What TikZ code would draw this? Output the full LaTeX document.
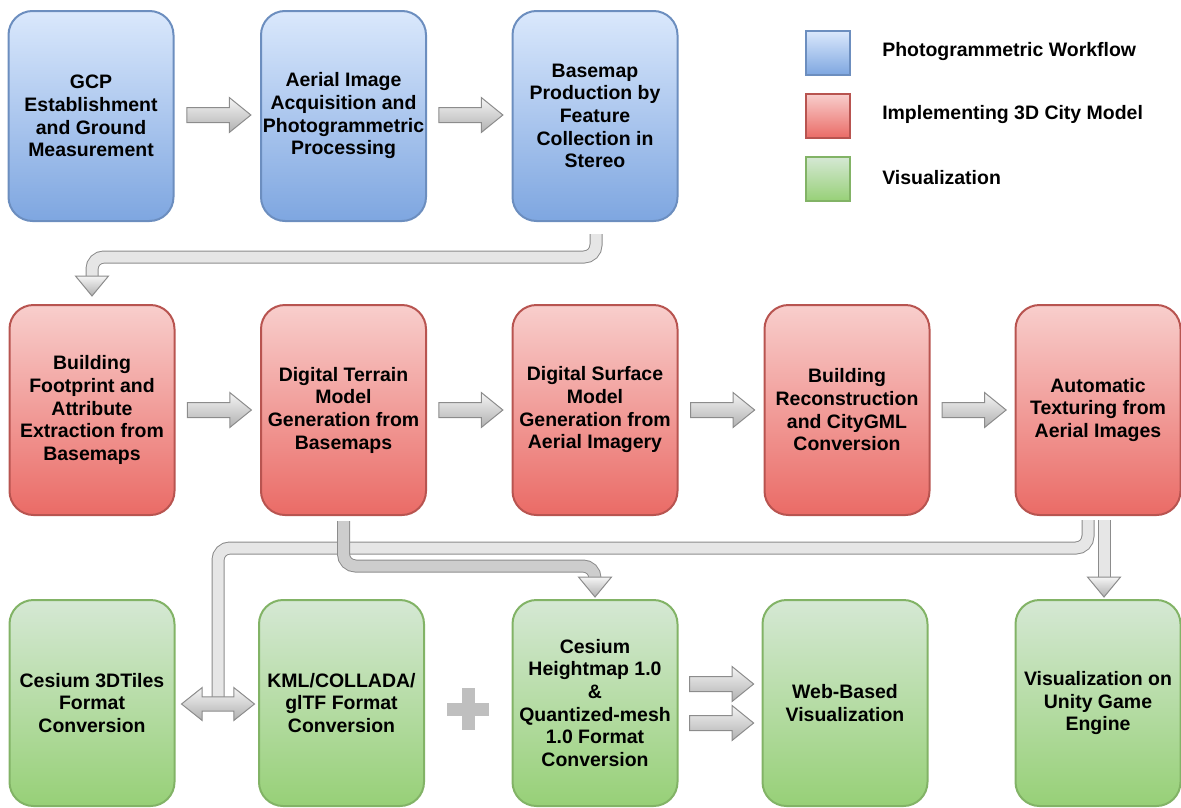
\documentclass[tikz,border=0pt]{standalone}
\usepackage{fontspec}
\setmainfont{Liberation Sans}
\usetikzlibrary{shapes.arrows,calc}
\definecolor{bluetop}{HTML}{DAE8FC}
\definecolor{bluebot}{HTML}{7EA6E0}
\definecolor{blueborder}{HTML}{6C8EBF}
\definecolor{redtop}{HTML}{F8CECC}
\definecolor{redbot}{HTML}{EA6B66}
\definecolor{redborder}{HTML}{B85450}
\definecolor{greentop}{HTML}{D5E8D4}
\definecolor{greenbot}{HTML}{97D077}
\definecolor{greenborder}{HTML}{82B366}
\definecolor{arrtop}{HTML}{F5F5F5}
\definecolor{arrbot}{HTML}{B0B0B0}
\definecolor{arrborder}{HTML}{8C8C8C}
\definecolor{shaftlight}{HTML}{E6E6E6}
\definecolor{shaftdark}{HTML}{CDCDCD}
\definecolor{plusgray}{HTML}{BFBFBF}
\tikzset{
  txt/.style={font=\fontsize{14.6}{17}\selectfont\bfseries},
  base/.style={txt, rectangle, rounded corners=18pt, minimum width=123.75pt,
    minimum height=157.5pt, line width=1.5pt, align=center, inner sep=0pt},
  bluebox/.style={base, draw=blueborder, top color=bluetop, bottom color=bluebot},
  redbox/.style={base, draw=redborder, top color=redtop, bottom color=redbot},
  greenbox/.style={base, minimum height=154.5pt, draw=greenborder, top color=greentop, bottom color=greenbot},
  legbox/.style={rectangle, minimum size=33pt, line width=1.5pt, inner sep=0pt},
  legtext/.style={txt, anchor=west, inner sep=0pt},
  rarrow/.style={single arrow, single arrow head extend=7.5pt, single arrow tip angle=78,
    minimum width=25.5pt, minimum height=48pt, inner xsep=0pt, inner ysep=5.25pt, draw=arrborder,
    line width=0.75pt, top color=arrtop, bottom color=arrbot},
  darrow/.style={double arrow, double arrow head extend=7.1pt, double arrow tip angle=77,
    minimum width=24pt, minimum height=54.75pt, inner xsep=0pt, inner ysep=4.9pt, draw=arrborder,
    line width=0.75pt, top color=arrtop, bottom color=arrbot},
  shaft/.style={draw=arrborder, line width=0.75pt, double=shaftlight, double distance=8.25pt, rounded corners=9pt},
  shaftd/.style={shaft, double=shaftdark},
  head/.style={draw=arrborder, line width=0.75pt, top color=arrtop, bottom color=arrbot},
}
\newcommand{\dnhead}[1]{\draw[head] (#1) -- ++(-16.5,-20) -- ++(33,0) -- cycle;}
\begin{document}
\begin{tikzpicture}[x=0.75pt,y=-0.75pt]
\useasboundingbox (0,0) rectangle (1181,807);
% row 1
\node[bluebox] (b1) at (91,116) {GCP\\Establishment\\and Ground\\Measurement};
\node[bluebox] (b2) at (343.5,116) {Aerial Image\\Acquisition and\\Photogrammetric\\Processing};
\node[bluebox] (b3) at (595,116) {Basemap\\Production by\\Feature\\Collection in\\Stereo};
% legend
\node[legbox, draw=blueborder, top color=bluetop, bottom color=bluebot] (l1) at (828,53) {};
\node[legbox, draw=redborder, top color=redtop, bottom color=redbot] (l2) at (828,116) {};
\node[legbox, draw=greenborder, top color=greentop, bottom color=greenbot] (l3) at (828,179) {};
\node[legtext] (lt1) at (882,52) {Photogrammetric Workflow};
\node[legtext] (lt2) at (882,115) {Implementing 3D City Model};
\node[legtext] (lt3) at (882,178) {Visualization};
% row 2
\node[redbox] (r1) at (92,410) {Building\\Footprint and\\Attribute\\Extraction from\\Basemaps};
\node[redbox] (r2) at (343.5,410) {Digital Terrain\\Model\\Generation from\\Basemaps};
\node[redbox] (r3) at (595,410) {Digital Surface\\Model\\Generation from\\Aerial Imagery};
\node[redbox] (r4) at (847,410) {Building\\Reconstruction\\and CityGML\\Conversion};
\node[redbox] (r5) at (1098,410) {Automatic\\Texturing from\\Aerial Images};
% row 3
\node[greenbox] (g1) at (92,703) {Cesium 3DTiles\\Format\\Conversion};
\node[greenbox] (g2) at (341.5,703) {KML/COLLADA/\\glTF Format\\Conversion};
\node[greenbox] (g3) at (595,703) {Cesium\\Heightmap 1.0\\\&\\Quantized-mesh\\1.0 Format\\Conversion};
\node[greenbox] (g4) at (845,703) {Web-Based\\Visualization};
\node[greenbox] (g5) at (1098,703) {Visualization on\\Unity Game\\Engine};
% horizontal block arrows
\node[rarrow] (a12) at ($(b1.east)!0.5!(b2.west)+(-3,-1)$) {};
\node[rarrow] (a23) at ($(b2.east)!0.5!(b3.west)+(-3,-1)$) {};
\node[rarrow] (a45) at ($(r1.east)!0.5!(r2.west)+(-3,0)$) {};
\node[rarrow] (a56) at ($(r2.east)!0.5!(r3.west)+(-3,0)$) {};
\node[rarrow] (a67) at ($(r3.east)!0.5!(r4.west)+(-3,0)$) {};
\node[rarrow] (a78) at ($(r4.east)!0.5!(r5.west)+(-3,0)$) {};
\node[rarrow] (a34a) at ($(g3.east)!0.5!(g4.west)+(-3,-19)$) {};
\node[rarrow] (a34b) at ($(g3.east)!0.5!(g4.west)+(-3,20)$) {};
% basemap -> building footprint
\draw[shaft] ($(b3.south)+(1,12)$) |- ($(r1.north)+(0,-47)$) -- ($(r1.north)+(0,-27)$);
\dnhead{$(r1.north)+(0,-8)$}
% texturing -> 3DTiles / KML (long connector)
\coordinate (dac) at (218,704);
\draw[shaft] ($(r5.south)+(-10,4)$) |- ($(dac)+(0,-156)$) -- ($(dac)+(0,-4)$);
\node[darrow] (da) at (dac) {};
% DTM -> heightmap
\draw[shaftd] ($(r2.south)+(0,5)$) |- ($(g3.north)+(0,-33)$) -- ($(g3.north)+(0,-21)$);
\dnhead{$(g3.north)+(0,-2)$}
% texturing -> unity
\draw[shaft] ($(r5.south)+(6,4)$) -- ($(g5.north)+(6,-21)$);
\dnhead{$(g5.north)+(6,-2)$}
% plus sign
\fill[plusgray] (447,702.5) rectangle (489,715.5);
\fill[plusgray] (462,688) rectangle (475,730);
\end{tikzpicture}
\end{document}
